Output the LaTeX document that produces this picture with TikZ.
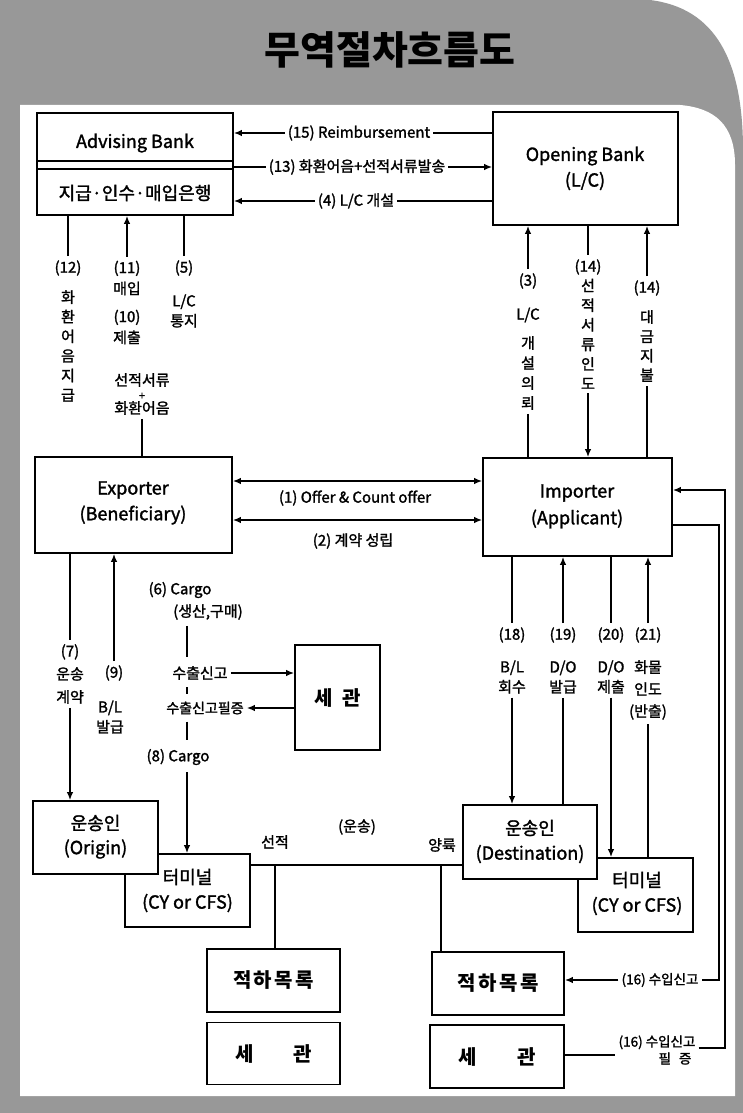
\documentclass[tikz,border=0pt]{standalone}
\usepackage{fontspec}
\setmainfont{Noto Sans CJK KR}
\newfontfamily\medfont{Noto Sans CJK KR}[FakeBold=1.6]
\usetikzlibrary{arrows.meta,calc}
\definecolor{pagegrey}{RGB}{152,152,152}
\tikzset{
  box/.style={draw=black, line width=1.8pt, fill=white, inner sep=0pt},
  btxt/.style={font=\medfont\fontsize{18}{21}\selectfont, inner sep=1pt},
  hl/.style={font=\medfont\fontsize{15}{17}\selectfont, align=center, inner xsep=3pt, inner ysep=3pt},
  lbl/.style={font=\medfont\fontsize{15}{17}\selectfont, align=center, inner xsep=1pt, inner ysep=4pt},
  vst/.style={font=\medfont\fontsize{15}{20}\selectfont, align=center, inner xsep=1pt, inner ysep=4pt},
  ln/.style={line width=1.4pt},
  arr/.style={line width=1.4pt, -{Latex[length=8pt,width=6.5pt]}},
  darr/.style={line width=1.4pt, {Latex[length=8pt,width=6.5pt]}-{Latex[length=8pt,width=6.5pt]}},
  bold/.style={font=\fontsize{20}{22}\selectfont\bfseries, inner sep=1pt},
}
\begin{document}
\begin{tikzpicture}[x=1pt,y=-1pt]
\useasboundingbox (0,0) rectangle (743,1113);
% background page
\fill[white] (0,0) rectangle (743,1113);
\fill[pagegrey] (0,0) -- (650,0) .. controls (715,8) and (743,60) .. (743,150) -- (743,1113) -- (0,1113) -- cycle;
\fill[white] (20,105) -- (680,105) .. controls (715,108) and (735,125) .. (735,165) -- (735,1096) -- (20,1096) -- cycle;
\node[font=\fontsize{39}{44}\selectfont\bfseries] (title) at (390,50) {무역절차흐름도};

% ---------- boxes ----------
\node[box, minimum width=196pt, minimum height=102pt] (adv) at (135,164) {};
\draw[line width=1.8pt] ($(adv.north west)+(0,49)$) -- ($(adv.north east)+(0,49)$);
\draw[line width=1.8pt] ($(adv.north west)+(0,57)$) -- ($(adv.north east)+(0,57)$);
\node[btxt] (advt) at (135,143) {Advising Bank};
\node[btxt] (advk) at (135,193) {지급·인수·매입은행};

\node[box, minimum width=185pt, minimum height=113pt] (opn) at (585.5,168.5) {};
\node[btxt] (opnt) at (585,156) {Opening Bank};
\node[btxt] (opnb) at (585,181) {(L/C)};

\node[box, minimum width=197pt, minimum height=96pt] (exp) at (133.5,505) {};
\node[btxt] (expt) at (133,490) {Exporter};
\node[btxt] (expb) at (133,515) {(Beneficiary)};

\node[box, minimum width=189pt, minimum height=98pt] (imp) at (577.5,507) {};
\node[btxt] (impt) at (577,493) {Importer};
\node[btxt] (impb) at (577,519) {(Applicant)};

\node[box, minimum width=85pt, minimum height=105pt] (cus1) at (337.5,697.5) {};
\node[bold] (cus1t) at (337.5,697.5) {세\hspace{10pt}관};

\node[box, minimum width=125pt, minimum height=73pt] (term1) at (187.5,890.5) {};
\node[btxt] (term1t) at (187.5,877) {터미널};
\node[btxt] (term1b) at (187.5,903) {(CY or CFS)};
\node[box, minimum width=125pt, minimum height=73pt] (org) at (95.5,837.5) {};
\node[btxt] (orgt) at (95.5,823) {운송인};
\node[btxt] (orgb) at (95.5,849) {(Origin)};

\node[box, minimum width=115pt, minimum height=74pt] (term2) at (635.5,895) {};
\node[btxt] (term2t) at (637,880) {터미널};
\node[btxt] (term2b) at (637,906) {(CY or CFS)};
\node[box, minimum width=134pt, minimum height=74pt] (dst) at (530,842) {};
\node[btxt] (dstt) at (530,828) {운송인};
\node[btxt] (dstb) at (530,854) {(Destination)};

\node[box, minimum width=133pt, minimum height=63pt] (mf1) at (273.5,980.5) {};
\node[bold] (mf1t) at (273.5,980.5) {\addfontfeature{LetterSpace=12}적하목록};
\node[box, minimum width=133pt, minimum height=62pt] (cus3) at (273.5,1053.5) {};
\node[bold] (cus3t) at (273.5,1053.5) {세\hspace{40pt}관};
\node[box, minimum width=132pt, minimum height=63pt] (mf2) at (498,983.5) {};
\node[bold] (mf2t) at (498,983.5) {\addfontfeature{LetterSpace=12}적하목록};
\node[box, minimum width=134pt, minimum height=63pt] (cus2) at (497,1056.5) {};
\node[bold] (cus2t) at (497,1056.5) {세\hspace{40pt}관};

% ---------- bank connectors ----------
\node[hl] (l15) at (359,133) {(15) Reimbursement};
\node[hl] (l13) at (357,167) {(13) 화환어음+선적서류발송};
\node[hl] (l4) at (356,201) {(4) L/C 개설};
\draw[arr] (l15.west) -- (l15.west -| adv.east);
\draw[ln] (l15.east) -- (l15.east -| opn.west);
\draw[ln] (l13.west -| adv.east) -- (l13.west);
\draw[arr] (l13.east) -- (l13.east -| opn.west);
\draw[arr] (l4.west) -- (l4.west -| adv.east);
\draw[ln] (l4.east) -- (l4.east -| opn.west);

% ---------- advising bank <-> exporter ----------
\node[lbl] (l12) at (68,268) {(12)};
\node[vst, font=\medfont\fontsize{15}{19.6}\selectfont] (l12v) at (68,346) {화\\환\\어\\음\\지\\급};
\draw[ln] (l12.north) -- (l12.north |- adv.south);
\node[vst, font=\medfont\fontsize{15}{21}\selectfont] (l11) at (127,278) {(11)\\매입};
\node[vst, font=\medfont\fontsize{15}{21}\selectfont] (l10) at (127,327) {(10)\\제출};
\draw[arr] (l11.north) -- (l11.north |- adv.south);
\node[lbl, font=\medfont\fontsize{15}{14}\selectfont] (ldoc) at (142,394) {선적서류\\{\fontsize{11}{11}\selectfont +}\\화환어음};
\draw[ln] (ldoc.south) -- (ldoc.south |- exp.north);
\node[lbl] (l5) at (184,268) {(5)};
\node[vst] (l5v) at (184,311) {L/C\\통지};
\draw[ln] (l5.north) -- (l5.north |- adv.south);

% ---------- opening bank <-> importer ----------
\node[lbl] (l3) at (528,281) {(3)};
\node[lbl] (l3b) at (528,315) {L/C};
\node[vst] (l3v) at (528,373) {개\\설\\의\\뢰};
\draw[arr] (l3.north) -- (l3.north |- opn.south);
\draw[ln] (l3v.south) -- (l3v.south |- imp.north);

\node[lbl] (l14a) at (588,267) {(14)};
\node[vst, font=\medfont\fontsize{15}{19.6}\selectfont] (l14av) at (588,334) {선\\적\\서\\류\\인\\도};
\draw[ln] (l14a.north |- opn.south) -- (l14a.north);
\draw[arr] (l14av.south) -- (l14av.south |- imp.north);

\node[lbl] (l14b) at (647,288) {(14)};
\node[vst, font=\medfont\fontsize{15}{19.4}\selectfont] (l14bv) at (647,346) {대\\금\\지\\불};
\draw[arr] (l14b.north) -- (l14b.north |- opn.south);
\draw[ln] (l14bv.south) -- (l14bv.south |- imp.north);

% ---------- exporter <-> importer ----------
\coordinate (ya) at (0,481);
\coordinate (yb) at (0,520);
\draw[darr] (exp.east |- ya) -- (imp.west |- ya);
\draw[darr] (exp.east |- yb) -- (imp.west |- yb);
\node[hl] (l1) at (355,498) {(1) Offer \& Count offer};
\node[hl] (l2) at (353,541) {(2) 계약 성립};

% ---------- exporter side, lower ----------
\node[font=\medfont\fontsize{15}{23}\selectfont, align=center, inner xsep=1pt, inner ysep=4pt] (l7) at (70,674) {(7)\\운송\\계약};
\draw[ln] (l7.north |- exp.south) -- (l7.north);
\draw[arr] (l7.south) -- (l7.south |- org.north);
\node[lbl] (l9) at (114,673) {(9)};
\node[vst] (l9b) at (110,717) {B/L\\발급};
\draw[arr] (l9.north) -- (l9.north |- exp.south);

\coordinate (cx) at (187,0);
\node[hl] (l6) at (180,590) {(6) Cargo};
\node[hl] (l6b) at (208,612) {(생산,구매)};
\node[hl] (lexp) at (200,673) {수출신고};
\node[hl, font=\medfont\fontsize{14}{16}\selectfont] (lcert) at (205,708) {수출신고필증};
\node[hl] (l8) at (178,757) {(8) Cargo};
\draw[ln] ([yshift=-3pt]l6b.south -| cx) -- ([yshift=6pt]lexp.north -| cx);
\draw[ln] ([yshift=-4pt]lexp.south -| cx) -- ([yshift=4pt]lcert.north -| cx);
\draw[ln] ([yshift=-4pt]lcert.south -| cx) -- ([yshift=6pt]l8.north -| cx);
\draw[arr] ([yshift=-4pt]l8.south -| cx) -- (cx |- term1.north);
\draw[arr] (lexp.east) -- (lexp.east -| cus1.west);
\draw[arr] (lcert.east -| cus1.west) -- (lcert.east);

% ---------- transport line ----------
\coordinate (j1) at (275,865);
\coordinate (j2) at (441,865);
\draw[line width=1.7pt] (term1.east |- j1) -- (dst.west |- j1);
\draw[ln] (j1) -- (j1 |- mf1.north);
\draw[ln] (j2) -- (j2 |- mf2.north);
\node[hl] (lsj) at (275,842) {선적};
\node[hl] (lus) at (357,827) {(운송)};
\node[hl] (lyr) at (442,845) {양륙};

% ---------- importer side, lower ----------
\node[lbl] (l18) at (512,635) {(18)};
\node[vst] (l18b) at (512,677) {B/L\\회수};
\draw[ln] (imp.south -| l18) -- (l18.north);
\draw[arr] (l18b.south) -- (l18b.south |- dst.north);

\node[lbl] (l19) at (563,635) {(19)};
\node[vst] (l19b) at (563,677) {D/O\\발급};
\draw[arr] (l19.north) -- (l19.north |- imp.south);
\draw[ln] (dst.north -| l19b) -- (l19b.south);

\node[lbl] (l20) at (611,635) {(20)};
\node[vst] (l20b) at (611,677) {D/O\\제출};
\draw[ln] (imp.south -| l20) -- (l20.north);
\draw[arr] (l20b.south) -- (l20b.south |- term2.north);

\node[lbl] (l21) at (648,635) {(21)};
\node[vst, font=\medfont\fontsize{15}{22}\selectfont] (l21b) at (648,690) {화물\\인도\\(반출)};
\draw[arr] (l21.north) -- (l21.north |- imp.south);
\draw[ln] (term2.north -| l21b) -- (l21b.south);

% ---------- import declaration ----------
\coordinate (ro1) at (725,490);
\coordinate (ro2) at (725,1048);
\coordinate (ri1) at (719,525);
\coordinate (ri2) at (719,980);
\coordinate (yc) at (0,1055);
\node[hl, font=\medfont\fontsize{13.5}{16}\selectfont] (l16a) at (660,980) {(16) 수입신고};
\node[hl, font=\medfont\fontsize{13.5}{17}\selectfont] (l16b) at (657,1050) {(16) 수입신고\\\hspace*{36pt}필\hspace{8pt}증};
\draw[ln] (imp.east |- ri1) -- (ri1) -- (ri2) -- (l16a.east |- ri2);
\draw[arr] (l16a.west) -- (l16a.west -| mf2.east);
\draw[arr] (l16b.east |- ro2) -- (ro2) -- (ro1) -- (imp.east |- ro1);
\draw[ln] (cus2.east |- yc) -- (l16b.west |- yc);
\end{tikzpicture}
\end{document}
